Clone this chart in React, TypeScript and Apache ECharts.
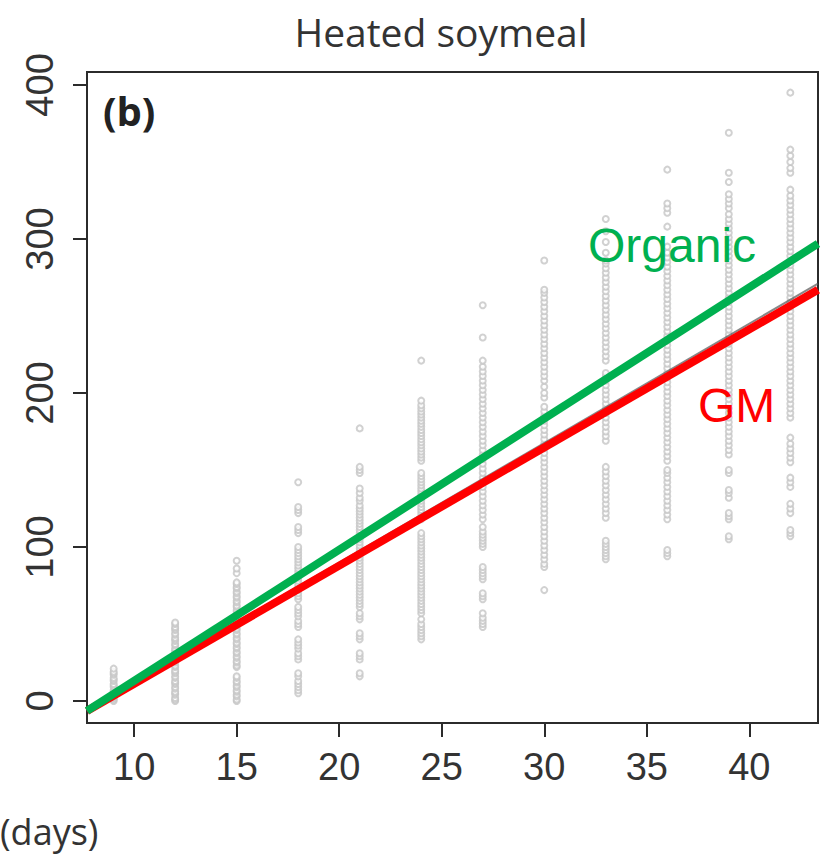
import React, { useEffect, useRef } from "react";
import * as echarts from "echarts";

const days = [9, 12, 15, 18, 21, 24, 27, 30, 33, 36, 39, 42];
const d9 = [0, 1, 2, 3, 5, 6, 7, 9, 10, 11, 13, 14, 15, 17, 18, 19, 21];
const d12 = [0, 1, 2, 4, 5, 6, 8, 9, 11, 12, 13, 15, 16, 18, 19, 20, 22, 23, 25, 26, 27, 29, 30, 32, 33, 34, 36, 37, 39, 40, 41, 43, 44, 46, 47, 48, 50, 51];
const d15 = [0, 1, 3, 4, 6, 7, 9, 10, 12, 13, 15, 16, 22, 23, 25, 26, 28, 29, 31, 32, 34, 35, 37, 38, 40, 41, 43, 44, 46, 47, 49, 50, 52, 53, 55, 56, 58, 59, 61, 62, 64, 65, 67, 68, 70, 71, 73, 74, 76, 77, 83, 86, 91];
const d18 = [5, 7, 9, 11, 13, 16, 18, 27, 29, 31, 34, 36, 38, 40, 48, 50, 52, 55, 57, 59, 61, 66, 68, 70, 72, 74, 76, 78, 80, 82, 84, 86, 88, 90, 92, 94, 96, 98, 100, 109, 111, 113, 122, 124, 126, 142];
const d21 = [16, 18, 27, 29, 31, 40, 42, 44, 53, 55, 57, 61, 63, 65, 67, 69, 71, 73, 75, 77, 79, 81, 83, 85, 87, 89, 91, 93, 95, 97, 99, 101, 103, 105, 107, 109, 111, 113, 115, 117, 119, 121, 123, 125, 127, 130, 132, 135, 138, 148, 150, 152, 177];
const d24 = [40, 42, 44, 46, 48, 50, 53, 57, 59, 61, 63, 65, 67, 69, 71, 73, 75, 77, 79, 81, 83, 85, 87, 89, 91, 93, 95, 97, 99, 101, 103, 105, 107, 109, 118, 120, 122, 124, 126, 128, 130, 132, 134, 136, 138, 140, 142, 144, 146, 148, 156, 158, 160, 162, 164, 166, 168, 170, 172, 174, 176, 178, 180, 182, 184, 186, 188, 190, 192, 195, 221];
const d27 = [48, 50, 52, 54, 57, 66, 68, 70, 79, 81, 83, 85, 87, 100, 102, 104, 106, 108, 110, 113, 118, 121, 124, 127, 130, 133, 136, 139, 142, 145, 148, 151, 154, 157, 160, 163, 166, 169, 172, 175, 178, 181, 184, 187, 190, 193, 196, 199, 202, 205, 208, 211, 214, 217, 221, 236, 257];
const d30 = [72, 87, 89, 92, 95, 98, 101, 104, 107, 110, 113, 116, 119, 122, 125, 128, 131, 134, 137, 140, 143, 146, 149, 152, 155, 158, 161, 164, 167, 170, 173, 176, 179, 182, 185, 188, 191, 197, 200, 204, 208, 211, 214, 217, 220, 223, 226, 229, 232, 235, 238, 241, 244, 247, 250, 253, 256, 259, 262, 265, 267, 286];
const d33 = [92, 94, 96, 98, 100, 102, 104, 119, 122, 125, 128, 131, 134, 137, 140, 143, 146, 149, 152, 169, 172, 175, 178, 181, 184, 187, 190, 193, 196, 199, 202, 205, 208, 211, 213, 221, 224, 227, 230, 233, 236, 239, 242, 245, 248, 251, 254, 257, 260, 263, 266, 269, 272, 275, 278, 281, 284, 286, 291, 298, 305, 313];
const d36 = [94, 96, 98, 118, 121, 124, 127, 130, 133, 136, 139, 142, 145, 148, 150, 156, 159, 162, 165, 168, 171, 174, 177, 180, 183, 186, 189, 192, 195, 198, 201, 204, 207, 210, 213, 216, 219, 222, 225, 228, 231, 234, 237, 240, 243, 246, 249, 252, 255, 258, 261, 264, 267, 270, 273, 276, 279, 282, 285, 288, 291, 295, 308, 317, 320, 323, 345];
const d39 = [105, 107, 118, 120, 122, 132, 135, 137, 148, 150, 160, 163, 166, 169, 172, 175, 178, 181, 184, 187, 190, 193, 196, 199, 202, 205, 208, 211, 214, 217, 220, 223, 226, 229, 232, 235, 238, 241, 244, 247, 250, 253, 256, 259, 262, 265, 268, 271, 274, 277, 280, 283, 286, 289, 292, 295, 298, 301, 304, 307, 310, 313, 316, 320, 323, 326, 329, 337, 343, 369];
const d42 = [107, 109, 111, 122, 125, 128, 139, 142, 145, 155, 158, 161, 164, 167, 171, 184, 187, 190, 193, 196, 199, 202, 205, 208, 211, 214, 217, 220, 223, 226, 229, 232, 235, 238, 241, 244, 247, 250, 253, 256, 259, 262, 265, 268, 271, 274, 277, 280, 283, 286, 289, 292, 295, 298, 301, 304, 307, 310, 313, 316, 319, 322, 325, 328, 332, 343, 346, 350, 354, 358, 395];
const columns = [d9, d12, d15, d18, d21, d24, d27, d30, d33, d36, d39, d42];

// Fitted lines (end points)
const lineX = [7.7, 43.35];
const organicY = [-6.5, 297];
const gmY = [-6.5, 267];
const shadowY = [-5.5, 271];

// Axis ticks
const xTicks = [10, 15, 20, 25, 30, 35, 40];
const yTicks = [0, 100, 200, 300, 400];
const xMin = 7.7;
const xMax = 43.35;
const yMin = -14.3;
const yMax = 408.4;

const title = "Heated soymeal";
const panel = "(b)";
const xUnit = "(days)";
const organicLabel = "Organic";
const gmLabel = "GM";

export default function App() {
  const ref = useRef<HTMLDivElement>(null);
  useEffect(() => {
    if (!ref.current) return;
    const chart = echarts.init(ref.current, null, { renderer: "svg" });
    const points: number[][] = [];
    columns.forEach((col, i) => col.forEach((v) => points.push([days[i], v])));
    const axisColor = "#2b2b2b";
    const labelFont = "'Liberation Sans', Arial, sans-serif";
    const humanist = "'Open Sans', 'Noto Sans', sans-serif";
    chart.setOption({
      animation: false,
      backgroundColor: "#ffffff",
      grid: {
        left: 87,
        top: 72,
        right: 3,
        bottom: 132,
        show: true,
        borderColor: axisColor,
        borderWidth: 2,
        backgroundColor: "transparent",
        outerBoundsMode: "none",
      },
      xAxis: {
        type: "value",
        min: xMin,
        max: xMax,
        splitLine: { show: false },
        axisLine: { show: false, onZero: false },
        axisTick: {
          show: true,
          length: 14,
          customValues: xTicks,
          lineStyle: { color: axisColor, width: 2 },
        },
        axisLabel: {
          customValues: xTicks,
          fontSize: 38,
          color: "#333",
          margin: 25,
          fontFamily: labelFont,
        },
      },
      yAxis: {
        type: "value",
        min: yMin,
        max: yMax,
        splitLine: { show: false },
        axisLine: { show: false, onZero: false },
        axisTick: {
          show: true,
          length: 14,
          customValues: yTicks,
          lineStyle: { color: axisColor, width: 2 },
        },
        axisLabel: {
          customValues: yTicks,
          rotate: 90,
          fontSize: 38,
          color: "#333",
          margin: 28,
          fontFamily: labelFont,
        },
      },
      series: [
        {
          type: "scatter",
          data: points,
          symbol: "emptyCircle",
          symbolSize: 6,
          itemStyle: { color: "#c6c6c6", borderColor: "#c6c6c6", borderWidth: 1.6 },
          silent: true,
          z: 1,
        },
        {
          type: "line",
          data: lineX.map((x, i) => [x, shadowY[i]]),
          symbol: "none",
          lineStyle: { color: "#555", width: 2, opacity: 0.7 },
          clip: true,
          z: 2,
        },
        {
          type: "line",
          data: lineX.map((x, i) => [x, gmY[i]]),
          symbol: "none",
          lineStyle: { color: "#ff0000", width: 8, cap: "butt" },
          clip: true,
          z: 3,
        },
        {
          type: "line",
          data: lineX.map((x, i) => [x, organicY[i]]),
          symbol: "none",
          lineStyle: { color: "#00b050", width: 8, cap: "butt" },
          clip: true,
          z: 4,
        },
      ],
      graphic: {
        elements: [
          {
            type: "text",
            x: 441,
            y: 31,
            z: 100,
            style: {
              text: title,
              align: "center",
              verticalAlign: "middle",
              fontSize: 39,
              fontFamily: humanist,
              fill: "#333",
            },
          },
          {
            type: "text",
            x: 103,
            y: 110,
            z: 100,
            style: {
              text: panel,
              align: "left",
              verticalAlign: "middle",
              fontSize: 40,
              fontWeight: "bold",
              fontFamily: humanist,
              fill: "#222",
            },
          },
          {
            type: "text",
            x: 588,
            y: 245,
            z: 100,
            style: {
              text: organicLabel,
              align: "left",
              verticalAlign: "middle",
              fontSize: 48,
              fontFamily: labelFont,
              fill: "#00b050",
            },
          },
          {
            type: "text",
            x: 698,
            y: 405,
            z: 100,
            style: {
              text: gmLabel,
              align: "left",
              verticalAlign: "middle",
              fontSize: 48,
              fontFamily: labelFont,
              fill: "#ff0000",
            },
          },
          {
            type: "text",
            x: 0,
            y: 831,
            z: 100,
            style: {
              text: xUnit,
              align: "left",
              verticalAlign: "middle",
              fontSize: 36,
              fontFamily: humanist,
              fill: "#333",
            },
          },
        ],
      },
    });
    return () => chart.dispose();
  }, []);
  return (
    <div
      ref={ref}
      style={{ position: "fixed", left: 0, top: 0, width: 821, height: 855, background: "#fff" }}
    />
  );
}
